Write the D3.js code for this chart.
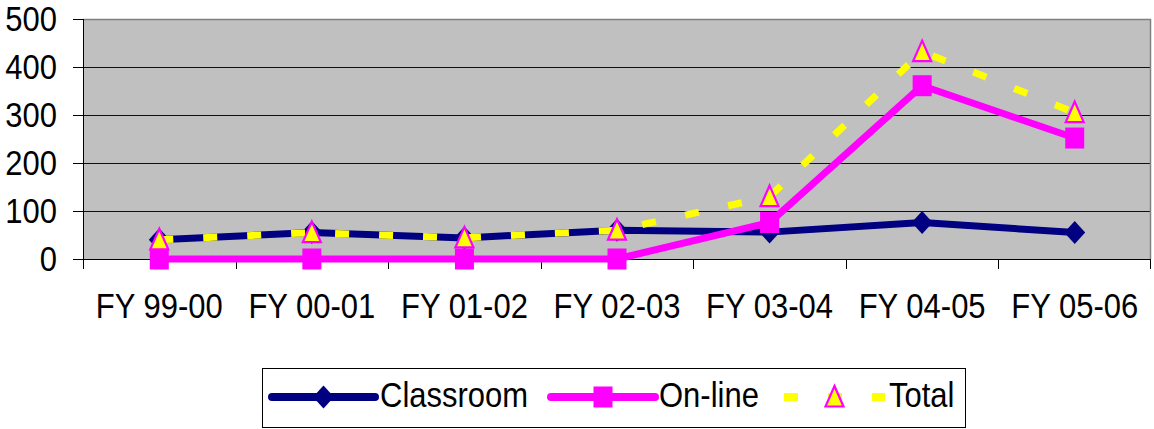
<!DOCTYPE html>
<html>
<head>
<meta charset="utf-8">
<script src="https://cdn.jsdelivr.net/npm/d3@7"></script>
<style>
    body { margin: 0; background: #fff; }
    svg { display: block; }
    text { font-family: "Liberation Sans", Arial, sans-serif; font-size: 31px; fill: #000; }
</style>
</head>
<body>
<svg id="chart" width="1154" height="429"></svg>
<script>
// values
const categories = ["FY 99-00", "FY 00-01", "FY 01-02", "FY 02-03", "FY 03-04", "FY 04-05", "FY 05-06"];
const classroom = [40, 55, 44, 60, 56, 76, 55];
const online = [0, 0, 0, 0, 76, 361, 252];
const total = [40, 55, 44, 60, 130, 432, 305];
const yTicks = [0, 100, 200, 300, 400, 500];
const seriesNames = ["Classroom", "On-line", "Total"];

const svg = d3.select("#chart");
const plot = { left: 83, top: 19, right: 1151, bottom: 259 };
const stretch = 1.12; // text in the picture is a bit taller than wide

const x = d3.scaleBand().domain(categories).range([plot.left, plot.right]);
const cx = d => x(d) + x.bandwidth() / 2;
const y = d3.scaleLinear().domain([0, 500]).range([plot.bottom, plot.top]);

function label(g, px, py, txt, anchor) {
    g.append("text")
        .attr("transform", `translate(${px},${py}) scale(1,${stretch})`)
        .attr("text-anchor", anchor)
        .text(txt);
}

// marker shapes
const markers = {
    diamond: g => g.append("path").attr("d", "M0,-11.5L10.5,0L0,11.5L-10.5,0Z")
        .attr("fill", "#000080"),
    square: g => g.append("rect").attr("x", -9.5).attr("y", -10.5).attr("width", 19).attr("height", 21)
        .attr("fill", "#ff00ff"),
    triangle: g => g.append("path").attr("d", "M0,-11L9,9.5L-9,9.5Z")
        .attr("fill", "#ffff00").attr("stroke", "#ff00ff").attr("stroke-width", 2.2)
        .attr("stroke-linejoin", "miter")
};

// plot area
svg.append("rect")
    .attr("x", plot.left).attr("y", plot.top)
    .attr("width", plot.right - plot.left).attr("height", plot.bottom - plot.top)
    .attr("fill", "#c0c0c0");

svg.append("g").selectAll("line")
    .data(yTicks.filter(v => v > 0 && v < 500))
    .join("line")
    .attr("x1", plot.left).attr("x2", plot.right)
    .attr("y1", d => y(d) + 0.5).attr("y2", d => y(d) + 0.5)
    .attr("stroke", "#111").attr("stroke-width", 1);

// top and right border (grey)
svg.append("path")
    .attr("d", `M${plot.left},${plot.top + 0.5}H${plot.right - 0.5}V${plot.bottom}`)
    .attr("fill", "none").attr("stroke", "#808080").attr("stroke-width", 1.5);

// y axis
const yAxis = svg.append("g");
yAxis.append("line")
    .attr("x1", plot.left + 0.5).attr("x2", plot.left + 0.5)
    .attr("y1", plot.top).attr("y2", plot.bottom + 10)
    .attr("stroke", "#000");
yAxis.selectAll("line.tick")
    .data(yTicks)
    .join("line").attr("class", "tick")
    .attr("x1", plot.left - 10).attr("x2", plot.left)
    .attr("y1", d => y(d) + 0.5).attr("y2", d => y(d) + 0.5)
    .attr("stroke", "#000");
yTicks.forEach(v => label(yAxis, 57, y(v) + 12, v, "end"));

// x axis
const xAxis = svg.append("g");
xAxis.append("line")
    .attr("x1", plot.left).attr("x2", plot.right)
    .attr("y1", plot.bottom + 0.5).attr("y2", plot.bottom + 0.5)
    .attr("stroke", "#000");
const edges = categories.map(d => x(d)).concat([plot.right - 1]);
xAxis.selectAll("line.tick")
    .data(edges)
    .join("line").attr("class", "tick")
    .attr("x1", d => Math.round(d) + 0.5).attr("x2", d => Math.round(d) + 0.5)
    .attr("y1", plot.bottom).attr("y2", plot.bottom + 10)
    .attr("stroke", "#000");
categories.forEach(c => label(xAxis, cx(c), 318, c, "middle"));

// series
const line = d3.line().x(d => cx(d[0])).y(d => y(d[1]));
const series = [
    { name: seriesNames[0], values: classroom, color: "#000080", dash: null, marker: "diamond" },
    { name: seriesNames[1], values: online, color: "#ff00ff", dash: null, marker: "square" },
    { name: seriesNames[2], values: total, color: "#ffff00", dash: "14,30", marker: "triangle" }
];

series.forEach(s => {
    const pts = categories.map((c, i) => [c, s.values[i]]);
    const g = svg.append("g");
    g.append("path")
        .datum(pts)
        .attr("d", line)
        .attr("fill", "none")
        .attr("stroke", s.color)
        .attr("stroke-width", 7)
        .attr("stroke-linejoin", "round")
        .attr("stroke-dasharray", s.dash);
    pts.forEach(p => {
        const m = g.append("g").attr("transform", `translate(${cx(p[0])},${y(p[1])})`);
        markers[s.marker](m);
    });
});

// legend
const legend = svg.append("g");
legend.append("rect")
    .attr("x", 262.5).attr("y", 368.5).attr("width", 703).attr("height", 59)
    .attr("fill", "#fff").attr("stroke", "#000").attr("stroke-width", 1);

const legendItems = [
    { x1: 272, x2: 375, tx: 380 },
    { x1: 551, x2: 655, tx: 659 },
    { x1: 784, x2: 885, tx: 889 }
];
series.forEach((s, i) => {
    const it = legendItems[i];
    legend.append("line")
        .attr("x1", it.x1).attr("x2", it.x2)
        .attr("y1", 397).attr("y2", 397)
        .attr("stroke", s.color).attr("stroke-width", 8)
        .attr("stroke-linecap", s.dash ? "butt" : "round")
        .attr("stroke-dasharray", s.dash);
    const m = legend.append("g").attr("transform", `translate(${(it.x1 + it.x2) / 2},397)`);
    markers[s.marker](m);
    label(legend, it.tx, 407, s.name, "start");
});
</script>
</body>
</html>
